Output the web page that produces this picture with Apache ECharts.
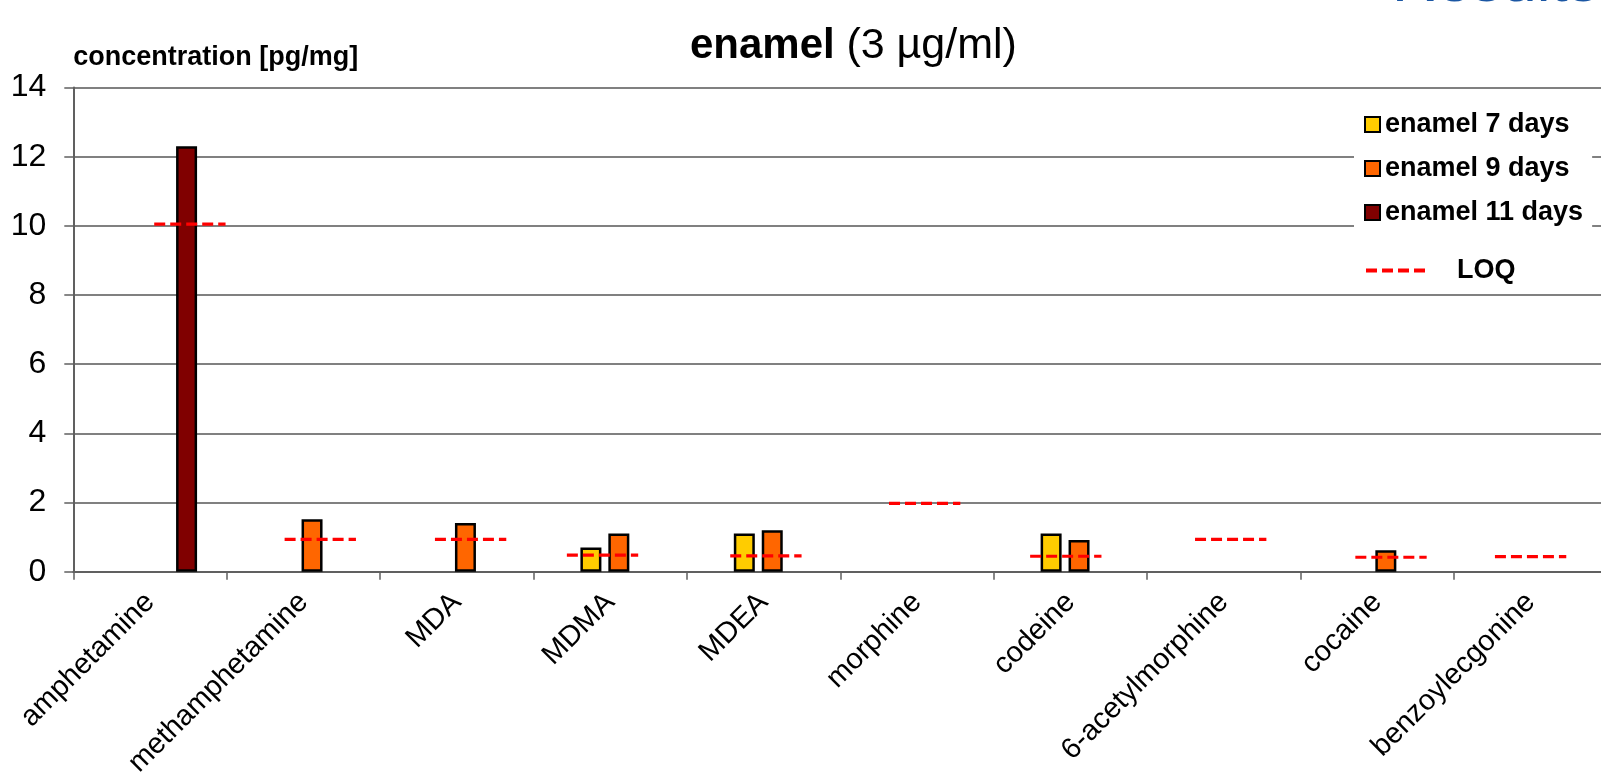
<!DOCTYPE html>
<html>
<head>
<meta charset="utf-8">
<script src="https://cdn.jsdelivr.net/npm/echarts@6/dist/echarts.min.js"></script>
<style>
html,body{margin:0;padding:0;background:#fff;}
#chart{width:1601px;height:773px;}
</style>
</head>
<body>
<div id="chart"></div>
<script>
const categories = ['amphetamine','methamphetamine','MDA','MDMA','MDEA','morphine','codeine','6-acetylmorphine','cocaine','benzoylecgonine'];
const enamel7 = [null, null, null, 0.70, 1.11, null, 1.11, null, null, null];
const enamel9 = [null, 1.52, 1.41, 1.11, 1.20, null, 0.92, null, 0.62, null];
const enamel11 = [12.3, null, null, null, null, null, null, null, null, null];
const loq = [10.05, 0.94, 0.94, 0.48, 0.46, 1.98, 0.45, 0.94, 0.42, 0.44];
// LOQ marker centre on the category axis (category index units)
const loqX = [0.26, 1.11, 2.09, 2.95, 4.015, 5.05, 5.97, 7.045, 8.09, 9.0];
const yTicks = [0, 2, 4, 6, 8, 10, 12, 14];

const FONT = '"Liberation Sans", Arial, Helvetica, sans-serif';
const chart = echarts.init(document.getElementById('chart'), null, {renderer: 'canvas'});

function barSeries(name, data, color) {
  return {
    type: 'bar', name: name, data: data,
    barWidth: 21, barGap: '33%',
    itemStyle: {color: color, borderColor: '#000', borderWidth: 2.5}
  };
}

const option = {
  backgroundColor: '#fff',
  animation: false,
  title: {
    text: '{b|enamel }{n|(3 µg/ml)}',
    left: 690,
    top: 25,
    padding: 0,
    textStyle: {
      rich: {
        b: {fontSize: 42, fontWeight: 'bold', fontFamily: FONT, color: '#000'},
        n: {fontSize: 43, fontWeight: 'normal', fontFamily: FONT, color: '#000'}
      }
    }
  },
  graphic: [{
    type: 'text',
    left: 1392,
    top: -47,
    style: {text: 'Results', fontSize: 62, fontFamily: FONT, fill: '#1a56a3'}
  }],
  legend: [{
    data: ['enamel 7 days', 'enamel 9 days', 'enamel 11 days'],
    orient: 'vertical',
    left: 1354,
    top: 99,
    padding: [12, 9, 12, 10],
    backgroundColor: '#fff',
    itemWidth: 15,
    itemHeight: 15,
    itemGap: 17,
    icon: 'rect',
    itemStyle: {borderColor: '#000', borderWidth: 2},
    textStyle: {fontSize: 27, fontWeight: 'bold', fontFamily: FONT, color: '#000'}
  }, {
    data: [{name: 'LOQ', icon: 'path://M0,0H11V4H0Z M16,0H27V4H16Z M32,0H43V4H32Z M48,0H59V4H48Z'}],
    orient: 'vertical',
    left: 1366,
    top: 257,
    padding: 0,
    itemWidth: 61,
    itemHeight: 4,
    textStyle: {fontSize: 27, fontWeight: 'bold', fontFamily: FONT, color: '#000', padding: [0, 0, 0, 26]}
  }],
  grid: {left: 73.3, right: -6.3, top: 87.5, bottom: 201.2, containLabel: false, outerBoundsMode: 'none'},
  xAxis: {
    type: 'category',
    data: categories,
    boundaryGap: true,
    axisLine: {show: true, lineStyle: {color: '#606060', width: 2}},
    axisTick: {show: true, alignWithLabel: false, interval: 0, length: 8, lineStyle: {color: '#606060', width: 1.5}},
    axisLabel: {
      interval: 0, rotate: 45, margin: 26,
      fontSize: 29, fontFamily: FONT, color: '#000'
    },
    splitLine: {show: false}
  },
  yAxis: {
    type: 'value',
    min: yTicks[0],
    max: yTicks[yTicks.length - 1],
    interval: 2,
    name: 'concentration [pg/mg]',
    nameLocation: 'end',
    nameGap: 30,
    nameTextStyle: {fontSize: 27, fontWeight: 'bold', fontFamily: FONT, color: '#000', align: 'left', verticalAlign: 'middle'},
    axisLine: {show: true, lineStyle: {color: '#606060', width: 2}},
    axisTick: {show: true, inside: false, length: 9, lineStyle: {color: '#606060', width: 1.5}},
    axisLabel: {margin: 27, fontSize: 32, fontFamily: FONT, color: '#000'},
    splitLine: {show: true, lineStyle: {color: '#808080', width: 2}}
  },
  series: [
    {type: 'bar', name: 'spacer', barWidth: 13, barGap: '33%', data: categories.map(() => null), silent: true, itemStyle: {color: 'transparent'}},
    barSeries('enamel 7 days', enamel7, '#FFCC00'),
    barSeries('enamel 9 days', enamel9, '#FF6600'),
    barSeries('enamel 11 days', enamel11, '#800000'),
    {
      type: 'custom',
      name: 'LOQ',
      itemStyle: {color: '#FF0000'},
      z: 5,
      data: loq.map((v, i) => [i, v, loqX[i]]),
      renderItem: function (params, api) {
        const idx = api.value(0);
        const p = api.coord([idx, api.value(1)]);
        const band = api.size([1, 0])[0];
        const cx = p[0] + (api.value(2) - idx) * band;
        const w = band * 0.465;
        return {
          type: 'line',
          shape: {x1: cx - w / 2, y1: p[1], x2: cx + w / 2, y2: p[1]},
          style: {stroke: '#FF0000', lineWidth: 3.2, lineDash: [11, 5]}
        };
      }
    }
  ]
};
chart.setOption(option);
</script>
</body>
</html>
